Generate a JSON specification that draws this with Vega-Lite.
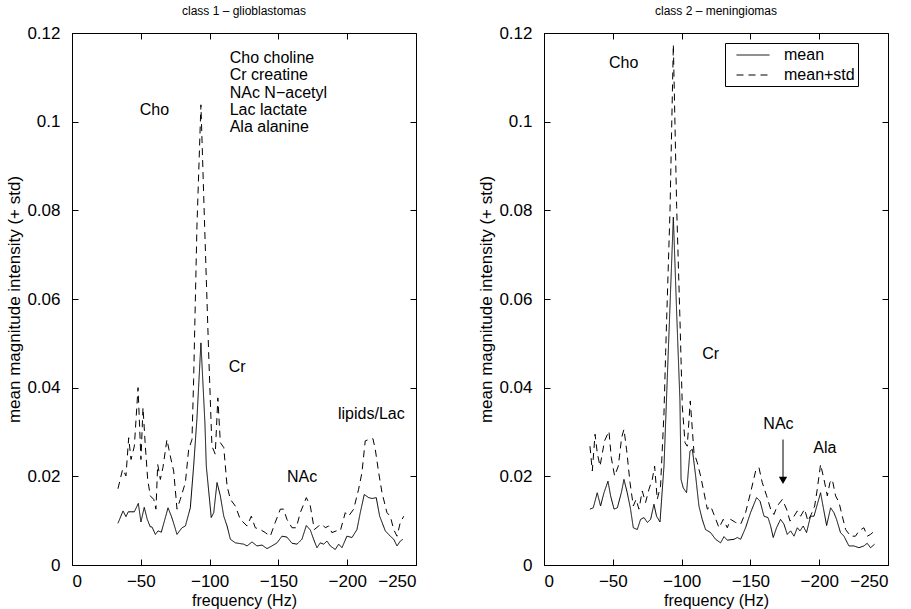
{
  "$schema": "https://vega.github.io/schema/vega-lite/v6.json",
  "background": "white",
  "padding": {"left": 5, "top": 4, "right": 20, "bottom": 4},
  "bounds": "flush",
  "spacing": 128,
  "resolve": {"scale": {"strokeDash": "independent"}, "legend": {"strokeDash": "independent"}},
  "config": {
    "font": "Liberation Sans",
    "view": {"stroke": "black", "strokeWidth": 1},
    "axis": {
      "grid": false,
      "domain": false,
      "tickColor": "black",
      "tickSize": -6,
      "labelColor": "black",
      "titleColor": "black",
      "labelFont": "Liberation Sans",
      "titleFont": "Liberation Sans",
      "labelFontSize": 17,
      "titleFontSize": 16,
      "titleFontWeight": "normal"
    },
    "axisX": {"labelPadding": 14},
    "axisY": {"labelPadding": 18},
    "title": {"font": "Liberation Sans", "fontSize": 12, "fontWeight": "normal", "color": "black", "offset": 6, "frame": "group"}
  },
  "datasets": {
    "g": [
      {"f":-33.4,"v":0.0094,"s":"mean"},{"f":-37.1,"v":0.0122,"s":"mean"},{"f":-39.2,"v":0.0109,"s":"mean"},{"f":-40.9,"v":0.0120,"s":"mean"},{"f":-45.3,"v":0.0120,"s":"mean"},{"f":-48.2,"v":0.0139,"s":"mean"},{"f":-50.1,"v":0.0097,"s":"mean"},{"f":-52.5,"v":0.0130,"s":"mean"},{"f":-54.7,"v":0.0103,"s":"mean"},{"f":-56.9,"v":0.0086,"s":"mean"},{"f":-58.1,"v":0.0086,"s":"mean"},{"f":-60.6,"v":0.0069,"s":"mean"},{"f":-62.5,"v":0.0077,"s":"mean"},{"f":-64.9,"v":0.0074,"s":"mean"},{"f":-69.8,"v":0.0129,"s":"mean"},{"f":-72.2,"v":0.0110,"s":"mean"},{"f":-73.6,"v":0.0097,"s":"mean"},{"f":-76.3,"v":0.0069,"s":"mean"},{"f":-79.9,"v":0.0084,"s":"mean"},{"f":-82.4,"v":0.0088,"s":"mean"},{"f":-86.0,"v":0.0129,"s":"mean"},{"f":-88.4,"v":0.0223,"s":"mean"},{"f":-90.8,"v":0.0330,"s":"mean"},{"f":-93.7,"v":0.0501,"s":"mean"},{"f":-96.6,"v":0.0320,"s":"mean"},{"f":-97.6,"v":0.0223,"s":"mean"},{"f":-101.2,"v":0.0107,"s":"mean"},{"f":-103.0,"v":0.0118,"s":"mean"},{"f":-105.4,"v":0.0186,"s":"mean"},{"f":-107.8,"v":0.0156,"s":"mean"},{"f":-110.3,"v":0.0110,"s":"mean"},{"f":-112.7,"v":0.0088,"s":"mean"},{"f":-115.1,"v":0.0058,"s":"mean"},{"f":-118.7,"v":0.0050,"s":"mean"},{"f":-124.8,"v":0.0047,"s":"mean"},{"f":-127.2,"v":0.0043,"s":"mean"},{"f":-130.8,"v":0.0052,"s":"mean"},{"f":-134.4,"v":0.0043,"s":"mean"},{"f":-138.1,"v":0.0045,"s":"mean"},{"f":-141.7,"v":0.0037,"s":"mean"},{"f":-145.3,"v":0.0043,"s":"mean"},{"f":-149.0,"v":0.0050,"s":"mean"},{"f":-152.6,"v":0.0065,"s":"mean"},{"f":-156.2,"v":0.0063,"s":"mean"},{"f":-159.9,"v":0.0049,"s":"mean"},{"f":-163.5,"v":0.0047,"s":"mean"},{"f":-167.1,"v":0.0058,"s":"mean"},{"f":-170.3,"v":0.0089,"s":"mean"},{"f":-173.2,"v":0.0079,"s":"mean"},{"f":-175.6,"v":0.0058,"s":"mean"},{"f":-178.0,"v":0.0039,"s":"mean"},{"f":-180.5,"v":0.0050,"s":"mean"},{"f":-182.9,"v":0.0047,"s":"mean"},{"f":-185.3,"v":0.0054,"s":"mean"},{"f":-187.7,"v":0.0043,"s":"mean"},{"f":-191.3,"v":0.0035,"s":"mean"},{"f":-193.8,"v":0.0047,"s":"mean"},{"f":-196.2,"v":0.0039,"s":"mean"},{"f":-199.8,"v":0.0065,"s":"mean"},{"f":-203.5,"v":0.0062,"s":"mean"},{"f":-207.1,"v":0.0080,"s":"mean"},{"f":-209.5,"v":0.0118,"s":"mean"},{"f":-212.4,"v":0.0159,"s":"mean"},{"f":-215.6,"v":0.0152,"s":"mean"},{"f":-218.0,"v":0.0150,"s":"mean"},{"f":-221.1,"v":0.0152,"s":"mean"},{"f":-223.6,"v":0.0110,"s":"mean"},{"f":-227.7,"v":0.0077,"s":"mean"},{"f":-231.3,"v":0.0065,"s":"mean"},{"f":-233.8,"v":0.0058,"s":"mean"},{"f":-236.2,"v":0.0043,"s":"mean"},{"f":-238.6,"v":0.0054,"s":"mean"},{"f":-240.5,"v":0.0058,"s":"mean"},
      {"f":-33.4,"v":0.0172,"s":"mean+std"},{"f":-36.8,"v":0.0216,"s":"mean+std"},{"f":-39.2,"v":0.0201,"s":"mean+std"},{"f":-41.2,"v":0.0287,"s":"mean+std"},{"f":-42.9,"v":0.0238,"s":"mean+std"},{"f":-45.3,"v":0.0268,"s":"mean+std"},{"f":-48.0,"v":0.0400,"s":"mean+std"},{"f":-50.1,"v":0.0238,"s":"mean+std"},{"f":-51.6,"v":0.0355,"s":"mean+std"},{"f":-53.3,"v":0.0268,"s":"mean+std"},{"f":-55.0,"v":0.0193,"s":"mean+std"},{"f":-56.9,"v":0.0156,"s":"mean+std"},{"f":-59.4,"v":0.0148,"s":"mean+std"},{"f":-61.0,"v":0.0126,"s":"mean+std"},{"f":-62.3,"v":0.0227,"s":"mean+std"},{"f":-64.2,"v":0.0193,"s":"mean+std"},{"f":-66.1,"v":0.0220,"s":"mean+std"},{"f":-69.0,"v":0.0283,"s":"mean+std"},{"f":-71.4,"v":0.0246,"s":"mean+std"},{"f":-73.9,"v":0.0212,"s":"mean+std"},{"f":-76.3,"v":0.0126,"s":"mean+std"},{"f":-78.7,"v":0.0148,"s":"mean+std"},{"f":-82.4,"v":0.0186,"s":"mean+std"},{"f":-84.8,"v":0.0261,"s":"mean+std"},{"f":-87.2,"v":0.0283,"s":"mean+std"},{"f":-88.4,"v":0.0419,"s":"mean+std"},{"f":-90.8,"v":0.0764,"s":"mean+std"},{"f":-93.7,"v":0.1038,"s":"mean+std"},{"f":-96.4,"v":0.0764,"s":"mean+std"},{"f":-99.3,"v":0.0479,"s":"mean+std"},{"f":-101.7,"v":0.0268,"s":"mean+std"},{"f":-104.1,"v":0.0250,"s":"mean+std"},{"f":-106.0,"v":0.0377,"s":"mean+std"},{"f":-107.8,"v":0.0276,"s":"mean+std"},{"f":-110.3,"v":0.0265,"s":"mean+std"},{"f":-112.7,"v":0.0178,"s":"mean+std"},{"f":-115.1,"v":0.0148,"s":"mean+std"},{"f":-118.7,"v":0.0133,"s":"mean+std"},{"f":-122.3,"v":0.0103,"s":"mean+std"},{"f":-127.2,"v":0.0088,"s":"mean+std"},{"f":-130.3,"v":0.0110,"s":"mean+std"},{"f":-133.2,"v":0.0084,"s":"mean+std"},{"f":-136.9,"v":0.0080,"s":"mean+std"},{"f":-140.5,"v":0.0073,"s":"mean+std"},{"f":-144.1,"v":0.0065,"s":"mean+std"},{"f":-147.7,"v":0.0096,"s":"mean+std"},{"f":-151.4,"v":0.0126,"s":"mean+std"},{"f":-153.8,"v":0.0126,"s":"mean+std"},{"f":-156.2,"v":0.0103,"s":"mean+std"},{"f":-159.9,"v":0.0084,"s":"mean+std"},{"f":-163.0,"v":0.0084,"s":"mean+std"},{"f":-165.9,"v":0.0118,"s":"mean+std"},{"f":-170.3,"v":0.0152,"s":"mean+std"},{"f":-173.2,"v":0.0133,"s":"mean+std"},{"f":-176.1,"v":0.0080,"s":"mean+std"},{"f":-179.3,"v":0.0088,"s":"mean+std"},{"f":-181.7,"v":0.0092,"s":"mean+std"},{"f":-184.1,"v":0.0084,"s":"mean+std"},{"f":-186.5,"v":0.0088,"s":"mean+std"},{"f":-188.9,"v":0.0073,"s":"mean+std"},{"f":-192.1,"v":0.0077,"s":"mean+std"},{"f":-195.0,"v":0.0077,"s":"mean+std"},{"f":-198.6,"v":0.0118,"s":"mean+std"},{"f":-201.0,"v":0.0110,"s":"mean+std"},{"f":-204.7,"v":0.0126,"s":"mean+std"},{"f":-208.3,"v":0.0171,"s":"mean+std"},{"f":-210.7,"v":0.0208,"s":"mean+std"},{"f":-213.1,"v":0.0280,"s":"mean+std"},{"f":-215.6,"v":0.0283,"s":"mean+std"},{"f":-218.7,"v":0.0285,"s":"mean+std"},{"f":-220.4,"v":0.0261,"s":"mean+std"},{"f":-222.9,"v":0.0208,"s":"mean+std"},{"f":-225.3,"v":0.0163,"s":"mean+std"},{"f":-228.9,"v":0.0118,"s":"mean+std"},{"f":-231.3,"v":0.0110,"s":"mean+std"},{"f":-233.8,"v":0.0080,"s":"mean+std"},{"f":-236.2,"v":0.0065,"s":"mean+std"},{"f":-238.6,"v":0.0096,"s":"mean+std"},{"f":-241.1,"v":0.0110,"s":"mean+std"}
    ],
    "m": [
      {"f":-33.4,"v":0.0126,"s":"mean"},{"f":-35.8,"v":0.0129,"s":"mean"},{"f":-38.7,"v":0.0163,"s":"mean"},{"f":-41.1,"v":0.0133,"s":"mean"},{"f":-43.6,"v":0.0163,"s":"mean"},{"f":-46.5,"v":0.0189,"s":"mean"},{"f":-48.4,"v":0.0156,"s":"mean"},{"f":-50.9,"v":0.0126,"s":"mean"},{"f":-53.3,"v":0.0129,"s":"mean"},{"f":-56.2,"v":0.0163,"s":"mean"},{"f":-58.1,"v":0.0193,"s":"mean"},{"f":-60.5,"v":0.0163,"s":"mean"},{"f":-62.9,"v":0.0126,"s":"mean"},{"f":-64.9,"v":0.0084,"s":"mean"},{"f":-67.8,"v":0.0080,"s":"mean"},{"f":-70.2,"v":0.0103,"s":"mean"},{"f":-72.7,"v":0.0107,"s":"mean"},{"f":-75.1,"v":0.0096,"s":"mean"},{"f":-77.5,"v":0.0103,"s":"mean"},{"f":-79.9,"v":0.0137,"s":"mean"},{"f":-81.8,"v":0.0110,"s":"mean"},{"f":-84.3,"v":0.0097,"s":"mean"},{"f":-87.2,"v":0.0223,"s":"mean"},{"f":-94.0,"v":0.0785,"s":"mean"},{"f":-96.4,"v":0.0570,"s":"mean"},{"f":-98.8,"v":0.0370,"s":"mean"},{"f":-99.6,"v":0.0193,"s":"mean"},{"f":-101.2,"v":0.0174,"s":"mean"},{"f":-103.6,"v":0.0163,"s":"mean"},{"f":-106.1,"v":0.0257,"s":"mean"},{"f":-107.8,"v":0.0261,"s":"mean"},{"f":-110.2,"v":0.0201,"s":"mean"},{"f":-112.6,"v":0.0133,"s":"mean"},{"f":-115.0,"v":0.0103,"s":"mean"},{"f":-117.4,"v":0.0080,"s":"mean"},{"f":-121.1,"v":0.0073,"s":"mean"},{"f":-124.7,"v":0.0058,"s":"mean"},{"f":-128.3,"v":0.0050,"s":"mean"},{"f":-130.8,"v":0.0064,"s":"mean"},{"f":-133.2,"v":0.0056,"s":"mean"},{"f":-138.1,"v":0.0058,"s":"mean"},{"f":-140.5,"v":0.0062,"s":"mean"},{"f":-142.9,"v":0.0058,"s":"mean"},{"f":-146.5,"v":0.0084,"s":"mean"},{"f":-150.1,"v":0.0118,"s":"mean"},{"f":-154.5,"v":0.0152,"s":"mean"},{"f":-157.0,"v":0.0144,"s":"mean"},{"f":-159.9,"v":0.0110,"s":"mean"},{"f":-162.8,"v":0.0107,"s":"mean"},{"f":-164.7,"v":0.0088,"s":"mean"},{"f":-166.6,"v":0.0062,"s":"mean"},{"f":-169.0,"v":0.0084,"s":"mean"},{"f":-171.9,"v":0.0103,"s":"mean"},{"f":-174.4,"v":0.0092,"s":"mean"},{"f":-176.8,"v":0.0069,"s":"mean"},{"f":-179.2,"v":0.0077,"s":"mean"},{"f":-181.7,"v":0.0065,"s":"mean"},{"f":-184.1,"v":0.0084,"s":"mean"},{"f":-186.0,"v":0.0077,"s":"mean"},{"f":-188.4,"v":0.0088,"s":"mean"},{"f":-190.8,"v":0.0073,"s":"mean"},{"f":-193.7,"v":0.0110,"s":"mean"},{"f":-196.2,"v":0.0110,"s":"mean"},{"f":-201.0,"v":0.0163,"s":"mean"},{"f":-203.0,"v":0.0129,"s":"mean"},{"f":-205.4,"v":0.0089,"s":"mean"},{"f":-208.3,"v":0.0129,"s":"mean"},{"f":-210.7,"v":0.0118,"s":"mean"},{"f":-212.6,"v":0.0103,"s":"mean"},{"f":-215.5,"v":0.0073,"s":"mean"},{"f":-218.0,"v":0.0065,"s":"mean"},{"f":-221.6,"v":0.0043,"s":"mean"},{"f":-225.3,"v":0.0043,"s":"mean"},{"f":-228.9,"v":0.0039,"s":"mean"},{"f":-232.5,"v":0.0043,"s":"mean"},{"f":-234.9,"v":0.0049,"s":"mean"},{"f":-237.3,"v":0.0039,"s":"mean"},{"f":-240.3,"v":0.0047,"s":"mean"},
      {"f":-33.4,"v":0.0268,"s":"mean+std"},{"f":-35.1,"v":0.0212,"s":"mean+std"},{"f":-37.1,"v":0.0295,"s":"mean+std"},{"f":-38.7,"v":0.0253,"s":"mean+std"},{"f":-40.7,"v":0.0223,"s":"mean+std"},{"f":-44.0,"v":0.0280,"s":"mean+std"},{"f":-47.2,"v":0.0302,"s":"mean+std"},{"f":-48.9,"v":0.0242,"s":"mean+std"},{"f":-51.3,"v":0.0201,"s":"mean+std"},{"f":-54.0,"v":0.0223,"s":"mean+std"},{"f":-56.4,"v":0.0287,"s":"mean+std"},{"f":-58.1,"v":0.0306,"s":"mean+std"},{"f":-60.0,"v":0.0261,"s":"mean+std"},{"f":-62.5,"v":0.0186,"s":"mean+std"},{"f":-64.9,"v":0.0133,"s":"mean+std"},{"f":-66.9,"v":0.0148,"s":"mean+std"},{"f":-69.0,"v":0.0126,"s":"mean+std"},{"f":-71.4,"v":0.0167,"s":"mean+std"},{"f":-73.8,"v":0.0141,"s":"mean+std"},{"f":-76.3,"v":0.0171,"s":"mean+std"},{"f":-78.7,"v":0.0193,"s":"mean+std"},{"f":-80.4,"v":0.0223,"s":"mean+std"},{"f":-82.3,"v":0.0148,"s":"mean+std"},{"f":-84.7,"v":0.0178,"s":"mean+std"},{"f":-87.2,"v":0.0343,"s":"mean+std"},{"f":-88.4,"v":0.0479,"s":"mean+std"},{"f":-91.6,"v":0.0802,"s":"mean+std"},{"f":-94.0,"v":0.1174,"s":"mean+std"},{"f":-96.4,"v":0.0809,"s":"mean+std"},{"f":-98.8,"v":0.0554,"s":"mean+std"},{"f":-100.5,"v":0.0358,"s":"mean+std"},{"f":-102.5,"v":0.0276,"s":"mean+std"},{"f":-104.1,"v":0.0268,"s":"mean+std"},{"f":-106.3,"v":0.0370,"s":"mean+std"},{"f":-109.0,"v":0.0253,"s":"mean+std"},{"f":-111.4,"v":0.0231,"s":"mean+std"},{"f":-113.8,"v":0.0201,"s":"mean+std"},{"f":-116.3,"v":0.0163,"s":"mean+std"},{"f":-118.7,"v":0.0126,"s":"mean+std"},{"f":-121.1,"v":0.0133,"s":"mean+std"},{"f":-123.5,"v":0.0114,"s":"mean+std"},{"f":-127.2,"v":0.0084,"s":"mean+std"},{"f":-130.3,"v":0.0103,"s":"mean+std"},{"f":-133.2,"v":0.0084,"s":"mean+std"},{"f":-135.6,"v":0.0103,"s":"mean+std"},{"f":-139.2,"v":0.0096,"s":"mean+std"},{"f":-142.9,"v":0.0092,"s":"mean+std"},{"f":-146.5,"v":0.0118,"s":"mean+std"},{"f":-150.1,"v":0.0163,"s":"mean+std"},{"f":-153.8,"v":0.0212,"s":"mean+std"},{"f":-156.2,"v":0.0220,"s":"mean+std"},{"f":-158.6,"v":0.0186,"s":"mean+std"},{"f":-161.8,"v":0.0156,"s":"mean+std"},{"f":-164.7,"v":0.0126,"s":"mean+std"},{"f":-167.1,"v":0.0114,"s":"mean+std"},{"f":-169.5,"v":0.0133,"s":"mean+std"},{"f":-173.2,"v":0.0148,"s":"mean+std"},{"f":-176.3,"v":0.0126,"s":"mean+std"},{"f":-178.8,"v":0.0099,"s":"mean+std"},{"f":-181.7,"v":0.0110,"s":"mean+std"},{"f":-184.1,"v":0.0122,"s":"mean+std"},{"f":-186.5,"v":0.0110,"s":"mean+std"},{"f":-189.4,"v":0.0126,"s":"mean+std"},{"f":-191.8,"v":0.0099,"s":"mean+std"},{"f":-194.2,"v":0.0114,"s":"mean+std"},{"f":-196.7,"v":0.0133,"s":"mean+std"},{"f":-198.6,"v":0.0171,"s":"mean+std"},{"f":-201.0,"v":0.0227,"s":"mean+std"},{"f":-203.5,"v":0.0193,"s":"mean+std"},{"f":-205.9,"v":0.0156,"s":"mean+std"},{"f":-207.8,"v":0.0186,"s":"mean+std"},{"f":-209.5,"v":0.0193,"s":"mean+std"},{"f":-211.9,"v":0.0156,"s":"mean+std"},{"f":-214.4,"v":0.0141,"s":"mean+std"},{"f":-216.8,"v":0.0110,"s":"mean+std"},{"f":-219.2,"v":0.0080,"s":"mean+std"},{"f":-222.8,"v":0.0065,"s":"mean+std"},{"f":-226.4,"v":0.0065,"s":"mean+std"},{"f":-228.9,"v":0.0077,"s":"mean+std"},{"f":-232.5,"v":0.0084,"s":"mean+std"},{"f":-234.9,"v":0.0065,"s":"mean+std"},{"f":-237.3,"v":0.0069,"s":"mean+std"},{"f":-240.3,"v":0.0077,"s":"mean+std"}
    ],
    "gt": [
      {"f":-49.2,"v":0.1027,"t":"Cho"},
      {"f":-114.6,"v":0.1144,"t":"Cho choline"},
      {"f":-114.6,"v":0.1106,"t":"Cr creatine"},
      {"f":-114.6,"v":0.1065,"t":"NAc N−acetyl"},
      {"f":-114.6,"v":0.1026,"t":"Lac lactate"},
      {"f":-114.6,"v":0.0988,"t":"Ala alanine"},
      {"f":-113.9,"v":0.0447,"t":"Cr"},
      {"f":-156.2,"v":0.0199,"t":"NAc"},
      {"f":-193.3,"v":0.0340,"t":"lipids/Lac"}
    ],
    "mt": [
      {"f":-47.2,"v":0.1132,"t":"Cho"},
      {"f":-115.0,"v":0.0477,"t":"Cr"},
      {"f":-159.4,"v":0.0319,"t":"NAc"},
      {"f":-195.7,"v":0.0265,"t":"Ala"}
    ],
    "arrow": [
      {"f":-173.7,"v":0.0283,"v2":0.0190,"h":0.0191}
    ]
  },
  "hconcat": [
    {
      "width": 344,
      "height": 532,
      "title": {"text": "class 1 – glioblastomas"},
      "resolve": {"axis": {"x": "independent", "y": "independent"}},
      "layer": [
        {
          "data": {"name": "g"},
          "mark": {"type": "line", "color": "black", "strokeWidth": 1},
          "encoding": {
            "x": {"field": "f", "type": "quantitative", "scale": {"domain": [-250, 0], "reverse": true, "nice": false, "zero": false},
                  "axis": {"orient": "bottom", "values": [0, -50, -100, -150, -200, -250], "title": "frequency (Hz)", "titlePadding": 3}},
            "y": {"field": "v", "type": "quantitative", "scale": {"domain": [0, 0.12], "nice": false},
                  "axis": {"orient": "left", "values": [0, 0.02, 0.04, 0.06, 0.08, 0.1, 0.12], "labelExpr": "datum.value == 0 ? '0' : format(datum.value, '.2~f')", "title": "mean magnitude intensity (+ std)", "titleFontSize": 17, "titlePadding": 3}},
            "strokeDash": {"field": "s", "type": "nominal", "scale": {"domain": ["mean", "mean+std"], "range": [[1, 0], [7, 5]]}, "legend": null}
          }
        },
        {
          "data": {"name": "gt"},
          "mark": {"type": "text", "align": "left", "baseline": "middle", "fontSize": 16, "font": "Liberation Sans", "color": "black"},
          "encoding": {
            "x": {"field": "f", "type": "quantitative", "axis": {"orient": "top", "labels": false, "title": null, "values": [0, -50, -100, -150, -200, -250]}},
            "y": {"field": "v", "type": "quantitative", "axis": {"orient": "right", "labels": false, "title": null, "values": [0, 0.02, 0.04, 0.06, 0.08, 0.1, 0.12]}},
            "text": {"field": "t"}
          }
        }
      ]
    },
    {
      "width": 344,
      "height": 532,
      "title": {"text": "class 2 – meningiomas"},
      "resolve": {"axis": {"x": "independent", "y": "independent"}},
      "layer": [
        {
          "data": {"name": "m"},
          "mark": {"type": "line", "color": "black", "strokeWidth": 1},
          "encoding": {
            "x": {"field": "f", "type": "quantitative", "scale": {"domain": [-250, 0], "reverse": true, "nice": false, "zero": false},
                  "axis": {"orient": "bottom", "values": [0, -50, -100, -150, -200, -250], "title": "frequency (Hz)", "titlePadding": 3}},
            "y": {"field": "v", "type": "quantitative", "scale": {"domain": [0, 0.12], "nice": false},
                  "axis": {"orient": "left", "values": [0, 0.02, 0.04, 0.06, 0.08, 0.1, 0.12], "labelExpr": "datum.value == 0 ? '0' : format(datum.value, '.2~f')", "title": "mean magnitude intensity (+ std)", "titleFontSize": 17, "titlePadding": 3}},
            "strokeDash": {"field": "s", "type": "nominal", "scale": {"domain": ["mean", "mean+std"], "range": [[1, 0], [7, 5]]},
                           "legend": {"orient": "none", "legendX": 181, "legendY": 10, "title": null, "strokeColor": "black", "fillColor": "white", "padding": 3,
                                      "labelFontSize": 16, "labelFont": "Liberation Sans", "labelColor": "black", "labelOffset": 22, "symbolOffset": 16,
                                      "symbolType": "M-2,0H2", "symbolSize": 272, "symbolStrokeWidth": 1, "symbolStrokeColor": "black", "rowPadding": 3, "cornerRadius": 0,
                                      "encode": {"symbols": {"update": {"strokeDash": {"signal": "datum.value === 'mean' ? [1, 0] : [14, 6]"}}}}}}
          }
        },
        {
          "data": {"name": "mt"},
          "mark": {"type": "text", "align": "left", "baseline": "middle", "fontSize": 16, "font": "Liberation Sans", "color": "black"},
          "encoding": {
            "x": {"field": "f", "type": "quantitative", "axis": {"orient": "top", "labels": false, "title": null, "values": [0, -50, -100, -150, -200, -250]}},
            "y": {"field": "v", "type": "quantitative", "axis": {"orient": "right", "labels": false, "title": null, "values": [0, 0.02, 0.04, 0.06, 0.08, 0.1, 0.12]}},
            "text": {"field": "t"}
          }
        },
        {
          "data": {"name": "arrow"},
          "mark": {"type": "rule", "color": "black", "strokeWidth": 1},
          "encoding": {
            "x": {"field": "f", "type": "quantitative", "axis": null},
            "y": {"field": "v", "type": "quantitative", "axis": null},
            "y2": {"field": "v2"}
          }
        },
        {
          "data": {"name": "arrow"},
          "mark": {"type": "point", "shape": "triangle-down", "filled": true, "color": "black", "size": 70, "opacity": 1},
          "encoding": {
            "x": {"field": "f", "type": "quantitative", "axis": null},
            "y": {"field": "h", "type": "quantitative", "axis": null}
          }
        }
      ]
    }
  ]
}
